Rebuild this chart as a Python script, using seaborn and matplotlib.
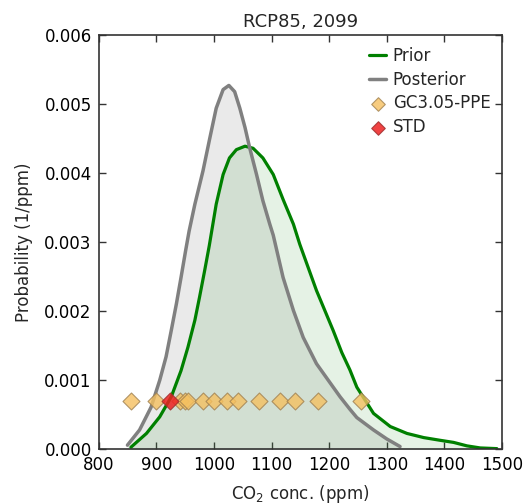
import matplotlib
matplotlib.use("Agg")
import matplotlib.pyplot as plt
import seaborn as sns
import numpy as np
import pandas as pd

# Data
prior_x = [856, 883, 906, 926, 943, 955, 967, 975, 984, 992, 1004, 1016, 1027, 1039,
           1054, 1068, 1085, 1103, 1120, 1138, 1149, 1178, 1207, 1222, 1236, 1248,
           1277, 1306, 1335, 1364, 1393, 1416, 1439, 1462, 1491]
prior_y = [0.03, 0.23, 0.47, 0.76, 1.14, 1.48, 1.87, 2.20, 2.59, 2.95, 3.55, 3.98, 4.22, 4.34,
           4.39, 4.36, 4.22, 3.98, 3.62, 3.26, 2.97, 2.30, 1.72, 1.40, 1.15, 0.90,
           0.52, 0.33, 0.23, 0.17, 0.13, 0.10, 0.05, 0.02, 0.01]
post_x = [850, 871, 891, 906, 917, 926, 935, 943, 951, 957, 967, 981, 993, 1004, 1016,
          1026, 1036, 1045, 1054, 1062, 1074, 1085, 1097, 1103, 1120, 1138, 1155, 1178,
          1207, 1219, 1236, 1248, 1277, 1300, 1323]
post_y = [0.06, 0.28, 0.61, 1.00, 1.34, 1.72, 2.11, 2.49, 2.88, 3.16, 3.55, 4.03, 4.51, 4.94, 5.21,
          5.27, 5.18, 4.94, 4.66, 4.37, 3.98, 3.60, 3.26, 3.10, 2.49, 2.01, 1.62, 1.24,
          0.90, 0.76, 0.58, 0.46, 0.28, 0.15, 0.04]
ppe_x = [856, 900, 942, 949, 955, 981, 1000, 1023, 1042, 1078, 1114, 1140, 1181, 1256]
std_x = [923]
marker_level = 0.0007

title = "RCP85, 2099"
xlabel = "CO$_2$ conc. (ppm)"
ylabel = "Probability (1/ppm)"
xticks = [800, 900, 1000, 1100, 1200, 1300, 1400, 1500]
yticks = [0.000, 0.001, 0.002, 0.003, 0.004, 0.005, 0.006]

sns.set_style("ticks")
plt.rcParams['font.family'] = ['DejaVu Sans']

prior_df = pd.DataFrame({"x": prior_x, "y": np.array(prior_y) * 1e-3})
post_df = pd.DataFrame({"x": post_x, "y": np.array(post_y) * 1e-3})
ppe_df = pd.DataFrame({"x": ppe_x, "y": [marker_level] * len(ppe_x)})
std_df = pd.DataFrame({"x": std_x, "y": [marker_level] * len(std_x)})

fig = plt.figure(figsize=(5.26, 5.04), dpi=100)
ax = fig.add_axes([0.1875, 0.1085, 0.767, 0.822])

ax.fill_between(post_df["x"], post_df["y"], color="#808080", alpha=0.16, lw=0)
ax.fill_between(prior_df["x"], prior_df["y"], color="green", alpha=0.1, lw=0)

sns.lineplot(data=prior_df, x="x", y="y", ax=ax, color="green", lw=2.3, label="Prior",
             sort=False, estimator=None, solid_joinstyle="round")
sns.lineplot(data=post_df, x="x", y="y", ax=ax, color="#808080", lw=2.5, label="Posterior",
             sort=False, estimator=None, solid_joinstyle="round")
sns.scatterplot(data=ppe_df, x="x", y="y", ax=ax, marker="D", s=75, color="#f5c060",
                edgecolor="#a08050", linewidth=0.8, alpha=0.8, label="GC3.05-PPE", zorder=4)
sns.scatterplot(data=std_df, x="x", y="y", ax=ax, marker="D", s=75, color="#ee2222",
                edgecolor="#a03030", linewidth=0.8, alpha=0.85, label="STD", zorder=5)

ax.set_xlim(800, 1500)
ax.set_ylim(0, 0.006)
ax.set_xticks(xticks)
ax.set_yticks(yticks)
ax.set_xticklabels([str(t) for t in xticks])
ax.set_yticklabels([f"{t:.3f}" for t in yticks])
ax.tick_params(direction="in", top=True, right=True, length=5, width=1,
               labelsize=12, colors="#333333", labelcolor="black", pad=5)
for s in ax.spines.values():
    s.set_color("#333333")
    s.set_linewidth(1.2)
ax.set_title(title, fontsize=13, pad=6)
ax.set_xlabel(xlabel, fontsize=12, labelpad=6)
ax.set_ylabel(ylabel, fontsize=12, labelpad=8)

leg = ax.legend(loc="upper right", frameon=False, fontsize=12, handlelength=1.0,
                handletextpad=0.4, borderaxespad=0.3, labelspacing=0.35, markerscale=0.8)

fig.savefig("out.png", dpi=100)
